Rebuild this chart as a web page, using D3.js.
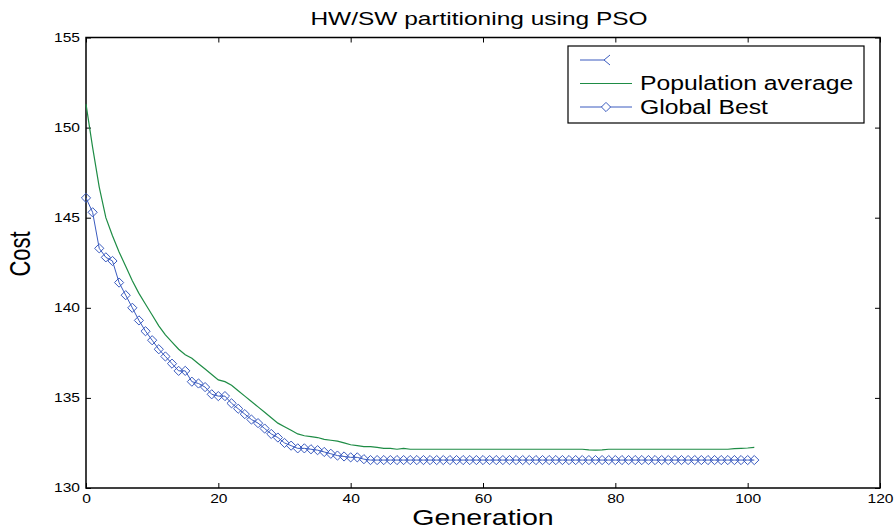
<!DOCTYPE html>
<html>
<head>
<meta charset="utf-8">
<script src="https://cdn.jsdelivr.net/npm/d3@7"></script>
<style>
  body { margin: 0; background: #fff; }
  text { font-family: "Liberation Sans", Arial, sans-serif; fill: #000; }
</style>
</head>
<body>
<div id="chart"></div>
<script>
// values, one per generation (0..101)
const globalBest = [
  146.1, 145.3, 143.3, 142.8, 142.6, 141.4, 140.7, 140.0, 139.3, 138.7,
  138.2, 137.7, 137.3, 136.9, 136.5, 136.5, 135.9, 135.8, 135.6, 135.2,
  135.1, 135.1, 134.7, 134.4, 134.1, 133.8, 133.6, 133.3, 133.0, 132.8,
  132.5, 132.35, 132.2, 132.2, 132.15, 132.1, 132.0, 131.9, 131.8, 131.75,
  131.7, 131.7, 131.6, 131.55, 131.55, 131.55, 131.55, 131.55, 131.55, 131.55,
  131.55, 131.55, 131.55, 131.55, 131.55, 131.55, 131.55, 131.55, 131.55, 131.55,
  131.55, 131.55, 131.55, 131.55, 131.55, 131.55, 131.55, 131.55, 131.55, 131.55,
  131.55, 131.55, 131.55, 131.55, 131.55, 131.55, 131.55, 131.55, 131.55, 131.55,
  131.55, 131.55, 131.55, 131.55, 131.55, 131.55, 131.55, 131.55, 131.55, 131.55,
  131.55, 131.55, 131.55, 131.55, 131.55, 131.55, 131.55, 131.55, 131.55, 131.55,
  131.55, 131.55
];
const popAverage = [
  151.3, 148.9, 146.7, 145.0, 144.0, 143.1, 142.3, 141.5, 140.8, 140.2,
  139.6, 139.0, 138.5, 138.1, 137.7, 137.4, 137.2, 136.9, 136.6, 136.3,
  136.0, 135.9, 135.7, 135.4, 135.1, 134.8, 134.5, 134.2, 133.9, 133.6,
  133.4, 133.2, 133.0, 132.9, 132.85, 132.8, 132.7, 132.65, 132.6, 132.5,
  132.4, 132.35, 132.3, 132.3, 132.25, 132.2, 132.2, 132.15, 132.2, 132.15,
  132.15, 132.15, 132.15, 132.15, 132.15, 132.15, 132.15, 132.15, 132.15, 132.15,
  132.15, 132.15, 132.15, 132.15, 132.15, 132.15, 132.15, 132.15, 132.15, 132.15,
  132.15, 132.15, 132.15, 132.15, 132.15, 132.15, 132.12, 132.1, 132.12, 132.15,
  132.15, 132.15, 132.15, 132.15, 132.15, 132.15, 132.15, 132.15, 132.15, 132.15,
  132.15, 132.15, 132.15, 132.15, 132.15, 132.15, 132.15, 132.15, 132.18, 132.2,
  132.22, 132.25
];
const xTicks = [0, 20, 40, 60, 80, 100, 120];
const yTicks = [130, 135, 140, 145, 150, 155];
const legendNames = ["", "Population average", "Global Best"];

const width = 896, height = 529;
const margin = {top: 37.5, right: 16, bottom: 41, left: 86};
const blue = "#3a5bbf", green = "#1e8c45";
const sx = 1.3; // the picture is stretched sideways, so is the text

const svg = d3.select("#chart").append("svg")
  .attr("width", width).attr("height", height);

svg.append("rect").attr("width", width).attr("height", height).attr("fill", "#fff");

const x = d3.scaleLinear().domain([0, 120]).range([margin.left, width - margin.right]);
const y = d3.scaleLinear().domain([130, 155]).range([height - margin.bottom, margin.top]);

// axes, ticks pointing inside like matlab
const xAxis = svg.append("g")
  .attr("transform", `translate(0,${y(130)})`)
  .call(d3.axisBottom(x).tickValues(xTicks).tickSizeInner(-5).tickSizeOuter(0).tickPadding(6));
xAxis.selectAll("text").attr("transform", `scale(${sx},1)`);

const yAxis = svg.append("g")
  .attr("transform", `translate(${x(0)},0)`)
  .call(d3.axisLeft(y).tickValues(yTicks).tickSizeInner(-5).tickSizeOuter(0));
yAxis.selectAll("text").attr("x", null).attr("transform", `translate(-6,0) scale(${sx},1)`);

svg.append("g").attr("transform", `translate(0,${y(155)})`)
  .call(d3.axisTop(x).tickValues(xTicks).tickSizeInner(-5).tickSizeOuter(0).tickFormat(""));
svg.append("g").attr("transform", `translate(${x(120)},0)`)
  .call(d3.axisRight(y).tickValues(yTicks).tickSizeInner(-5).tickSizeOuter(0).tickFormat(""));

svg.selectAll(".domain").remove();
svg.selectAll(".tick line").attr("stroke", "#000");
svg.selectAll(".tick text").attr("font-size", 12).attr("font-family", "Liberation Sans, Arial, sans-serif");

svg.append("rect")
  .attr("x", x(0)).attr("y", y(155))
  .attr("width", x(120) - x(0)).attr("height", y(130) - y(155))
  .attr("fill", "none").attr("stroke", "#000").attr("stroke-width", 1.5);

// curves
const line = d3.line().x((d, i) => x(i)).y(d => y(d));

svg.append("path").datum(popAverage)
  .attr("d", line).attr("fill", "none").attr("stroke", green).attr("stroke-width", 1.2);

svg.append("path").datum(globalBest)
  .attr("d", line).attr("fill", "none").attr("stroke", blue).attr("stroke-width", 1);

const diamond = (cx, cy, r) => `M${cx},${cy - r}L${cx + r},${cy}L${cx},${cy + r}L${cx - r},${cy}Z`;

svg.append("g").selectAll("path")
  .data(globalBest)
  .enter()
  .append("path")
  .attr("d", (d, i) => diamond(x(i), y(d), 4.6))
  .attr("fill", "none").attr("stroke", blue).attr("stroke-width", 1);

// titles
svg.append("text")
  .attr("transform", `translate(479,25) scale(1.36,1)`)
  .attr("text-anchor", "middle").attr("font-size", 18)
  .text("HW/SW partitioning using PSO");

svg.append("text")
  .attr("transform", `translate(${(x(0) + x(120)) / 2},525) scale(${sx},1)`)
  .attr("text-anchor", "middle").attr("font-size", 22)
  .text("Generation");

svg.append("text")
  .attr("transform", `translate(30,254) scale(${sx},1) rotate(-90)`)
  .attr("text-anchor", "middle").attr("font-size", 22)
  .text("Cost");

// legend
const leg = svg.append("g");
leg.append("rect").attr("x", 568).attr("y", 46).attr("width", 296).attr("height", 77)
  .attr("fill", "#fff").attr("stroke", "#000").attr("stroke-width", 1.2);

const rowY = [60, 83.5, 107];
// first entry: blue line with a cut marker and no name
leg.append("line").attr("x1", 580).attr("x2", 604).attr("y1", rowY[0]).attr("y2", rowY[0])
  .attr("stroke", blue);
leg.append("path").attr("d", `M610,${rowY[0] - 5}L604,${rowY[0]}L610,${rowY[0] + 5}`)
  .attr("fill", "none").attr("stroke", blue);

leg.append("line").attr("x1", 580).attr("x2", 632).attr("y1", rowY[1]).attr("y2", rowY[1])
  .attr("stroke", green).attr("stroke-width", 1.2);
leg.append("line").attr("x1", 580).attr("x2", 632).attr("y1", rowY[2]).attr("y2", rowY[2])
  .attr("stroke", blue);
leg.append("path").attr("d", diamond(606, rowY[2], 4.6))
  .attr("fill", "#fff").attr("stroke", blue);

leg.selectAll("text.name")
  .data(legendNames)
  .enter()
  .append("text")
  .attr("class", "name")
  .attr("transform", (d, i) => `translate(640,${rowY[i]}) scale(1.27,1)`)
  .attr("dy", "0.35em").attr("font-size", 19.5)
  .text(d => d);
</script>
</body>
</html>
